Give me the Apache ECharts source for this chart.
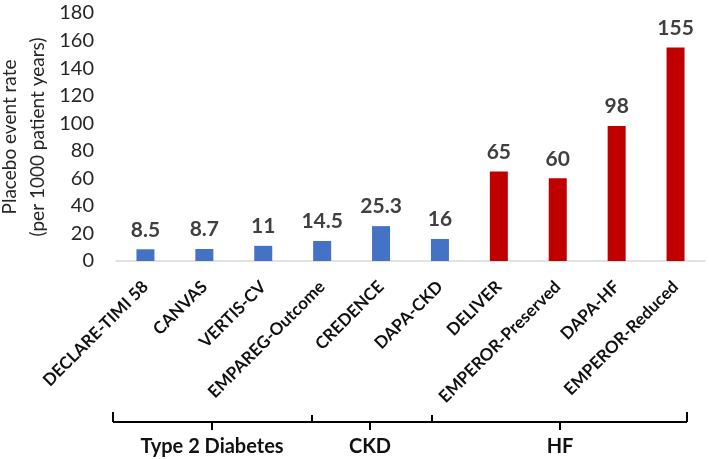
<!DOCTYPE html>
<html><head><meta charset="utf-8">
<script src="https://cdn.jsdelivr.net/npm/echarts@6/dist/echarts.min.js"></script>
<style>html,body{margin:0;padding:0;background:#fff}#c{width:709px;height:459px}</style>
</head><body><div id="c"></div>
<script>
const categories = ['DECLARE-TIMI 58','CANVAS','VERTIS-CV','EMPAREG-Outcome','CREDENCE','DAPA-CKD','DELIVER','EMPEROR-Preserved','DAPA-HF','EMPEROR-Reduced'];
const values = [8.5, 8.7, 11, 14.5, 25.3, 16, 65, 60, 98, 155];
const valueLabels = ['8.5','8.7','11','14.5','25.3','16','65','60','98','155'];
const groups = ['Type 2 Diabetes','Type 2 Diabetes','Type 2 Diabetes','Type 2 Diabetes','CKD','CKD','HF','HF','HF','HF'];
const groupColors = {'Type 2 Diabetes':'#4472C4','CKD':'#4472C4','HF':'#C00000'};
const yTicks = [0,20,40,60,80,100,120,140,160,180];

const font = 'Lato, "Open Sans", sans-serif';
const chart = echarts.init(document.getElementById('c'));
chart.setOption({
  animation:false,
  grid:{left:116,right:4,top:13,bottom:198,containLabel:false,outerBoundsMode:'none'},
  xAxis:{type:'category',data:categories,
    axisLine:{lineStyle:{color:'#d9d9d9',width:1.5}},axisTick:{show:false},
    axisLabel:{rotate:45,interval:0,margin:23,color:'#111',fontWeight:'bold',fontSize:17,fontFamily:font}},
  yAxis:{type:'value',min:0,max:180,interval:20,
    axisLine:{show:false},axisTick:{show:false},splitLine:{show:false},
    axisLabel:{color:'#262626',fontSize:20,fontFamily:font,margin:22,
      formatter:v=>yTicks.includes(v)?String(v):''},
    name:'Placebo event rate\n(per 1000 patient years)',nameLocation:'middle',nameGap:64,nameMoveOverlap:false,
    nameTextStyle:{color:'#262626',fontSize:19,fontFamily:font,lineHeight:28}},
  series:[{type:'bar',barWidth:18,
    data:values.map((v,i)=>({value:v,itemStyle:{color:groupColors[groups[i]]}})),
    label:{show:true,position:'top',distance:9,color:'#404040',fontWeight:'bold',fontSize:21,fontFamily:font,
      formatter:p=>valueLabels[p.dataIndex]}}]
});

// group brackets
const lineStyle={stroke:'#000',lineWidth:2};
const by=422;
const segs=[[113,312,'Type 2 Diabetes'],[312,432,'CKD'],[432,687,'HF']];
const g=[];
g.push({type:'line',shape:{x1:113,y1:by,x2:687,y2:by},style:lineStyle});
[113,687].forEach(x=>g.push({type:'line',shape:{x1:x,y1:by,x2:x,y2:by-10},style:lineStyle}));
[312,432].forEach(x=>g.push({type:'line',shape:{x1:x,y1:by,x2:x,y2:by-7},style:lineStyle}));
const centers=[212,370,560];
segs.forEach((s,i)=>{
  g.push({type:'line',shape:{x1:centers[i],y1:by,x2:centers[i],y2:by+8},style:lineStyle});
  g.push({type:'text',x:centers[i],y:447,style:{text:s[2],textAlign:'center',textVerticalAlign:'middle',font:'bold 20px '+font,fill:'#111'}});
});
chart.setOption({graphic:g});
</script></body></html>
